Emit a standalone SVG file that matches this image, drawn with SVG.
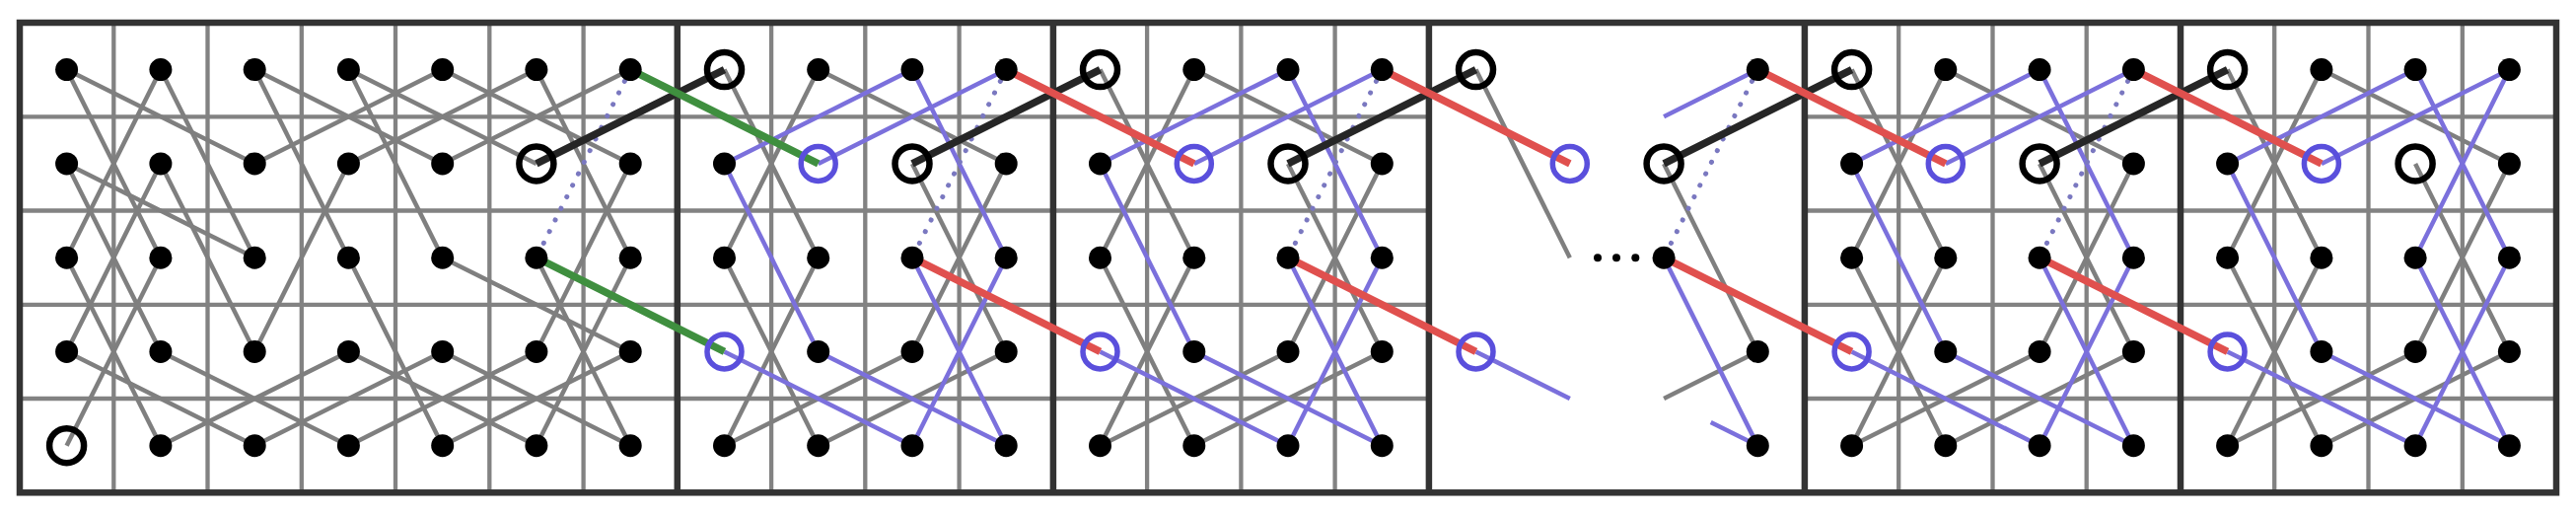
<svg xmlns="http://www.w3.org/2000/svg" width="2612" height="523" viewBox="0 0 2612 523">
<style>
.grid{stroke:#828282;stroke-width:4.3;fill:none}
.frame{stroke:#333;stroke-width:6.5;fill:none}
.g{stroke:#7f7f7f;stroke-width:4.5}
.b{stroke:#7b70dc;stroke-width:4.5}
.dt{stroke:#7a78c0;stroke-width:5;stroke-linecap:round;stroke-dasharray:0.1 13}
.k{stroke:#262626;stroke-width:7.5}
.gr{stroke:#3f8f3f;stroke-width:7.5}
.r{stroke:#e0504e;stroke-width:7.5}
.d{fill:#000}
.kr{fill:none;stroke:#000;stroke-width:6.5}
.br{fill:none;stroke:#5a4fdc;stroke-width:5.5}
.el{fill:#000}
</style>
<rect x="0" y="0" width="2612" height="523" fill="#fff"/>
<g id="grid">
<path class="grid" d="M115.3 23V499.3M210.5 23V499.3M305.8 23V499.3M401 23V499.3M496.3 23V499.3M591.6 23V499.3M782.1 23V499.3M877.3 23V499.3M972.6 23V499.3M1163.1 23V499.3M1258.4 23V499.3M1353.6 23V499.3M1925.2 23V499.3M2020.5 23V499.3M2115.7 23V499.3M2306.2 23V499.3M2401.5 23V499.3M2496.8 23V499.3"/>
<path class="grid" d="M20 118.3H1448.9M20 213.5H1448.9M20 308.8H1448.9M20 404H1448.9M1829.9 118.3H2592M1829.9 213.5H2592M1829.9 308.8H2592M1829.9 404H2592"/>
<rect class="frame" x="20" y="23" width="2572" height="476.3"/>
<path class="frame" d="M686.8 23V499.3M1067.9 23V499.3M1448.9 23V499.3M1829.9 23V499.3M2211 23V499.3"/>
</g>
<g id="connectors">
<g id="gray-edges" class="g">
<line x1="67.6" y1="70.6" x2="258.2" y2="165.9"/>
<line x1="67.6" y1="70.6" x2="162.9" y2="261.2"/>
<line x1="162.9" y1="70.6" x2="67.6" y2="261.2"/>
<line x1="162.9" y1="70.6" x2="258.2" y2="261.2"/>
<line x1="67.6" y1="165.9" x2="258.2" y2="261.2"/>
<line x1="67.6" y1="165.9" x2="162.9" y2="356.4"/>
<line x1="162.9" y1="165.9" x2="67.6" y2="356.4"/>
<line x1="162.9" y1="165.9" x2="258.2" y2="356.4"/>
<line x1="67.6" y1="261.2" x2="162.9" y2="451.7"/>
<line x1="162.9" y1="261.2" x2="67.6" y2="451.7"/>
<line x1="67.6" y1="356.4" x2="258.2" y2="451.7"/>
<line x1="162.9" y1="356.4" x2="353.4" y2="451.7"/>
<line x1="162.9" y1="451.7" x2="353.4" y2="356.4"/>
<line x1="258.2" y1="165.9" x2="448.7" y2="70.6"/>
<line x1="258.2" y1="356.4" x2="353.4" y2="165.9"/>
<line x1="258.2" y1="451.7" x2="448.7" y2="356.4"/>
<line x1="353.4" y1="356.4" x2="543.9" y2="451.7"/>
<line x1="353.4" y1="451.7" x2="543.9" y2="356.4"/>
<line x1="353.4" y1="70.6" x2="543.9" y2="165.9"/>
<line x1="353.4" y1="70.6" x2="448.7" y2="261.2"/>
<line x1="258.2" y1="70.6" x2="448.7" y2="165.9"/>
<line x1="258.2" y1="70.6" x2="353.4" y2="261.2"/>
<line x1="353.4" y1="165.9" x2="543.9" y2="70.6"/>
<line x1="543.9" y1="70.6" x2="639.2" y2="261.2"/>
<line x1="639.2" y1="165.9" x2="543.9" y2="356.4"/>
<line x1="639.2" y1="70.6" x2="448.7" y2="165.9"/>
<line x1="448.7" y1="70.6" x2="639.2" y2="165.9"/>
<line x1="543.9" y1="261.2" x2="639.2" y2="451.7"/>
<line x1="639.2" y1="261.2" x2="543.9" y2="451.7"/>
<line x1="448.7" y1="261.2" x2="639.2" y2="356.4"/>
<line x1="639.2" y1="356.4" x2="448.7" y2="451.7"/>
<line x1="448.7" y1="356.4" x2="639.2" y2="451.7"/>
<line x1="353.4" y1="261.2" x2="448.7" y2="451.7"/>

<line x1="734.5" y1="70.6" x2="829.7" y2="261.2"/>
<line x1="829.7" y1="261.2" x2="734.5" y2="451.7"/>
<line x1="734.5" y1="451.7" x2="925" y2="356.4"/>
<line x1="925" y1="356.4" x2="1020.2" y2="165.9"/>
<line x1="1020.2" y1="165.9" x2="829.7" y2="70.6"/>
<line x1="829.7" y1="70.6" x2="734.5" y2="261.2"/>
<line x1="734.5" y1="261.2" x2="829.7" y2="451.7"/>
<line x1="829.7" y1="451.7" x2="1020.2" y2="356.4"/>
<line x1="1020.2" y1="356.4" x2="925" y2="165.9"/>

<line x1="1115.5" y1="70.6" x2="1210.8" y2="261.2"/>
<line x1="1210.8" y1="261.2" x2="1115.5" y2="451.7"/>
<line x1="1115.5" y1="451.7" x2="1306" y2="356.4"/>
<line x1="1306" y1="356.4" x2="1401.3" y2="165.9"/>
<line x1="1401.3" y1="165.9" x2="1210.8" y2="70.6"/>
<line x1="1210.8" y1="70.6" x2="1115.5" y2="261.2"/>
<line x1="1115.5" y1="261.2" x2="1210.8" y2="451.7"/>
<line x1="1210.8" y1="451.7" x2="1401.3" y2="356.4"/>
<line x1="1401.3" y1="356.4" x2="1306" y2="165.9"/>

<line x1="1496.5" y1="70.6" x2="1591.8" y2="261.2"/>
<line x1="1687.1" y1="165.9" x2="1782.3" y2="356.4"/>
<line x1="1782.3" y1="356.4" x2="1687.1" y2="404"/>

<line x1="1877.6" y1="70.6" x2="1972.8" y2="261.2"/>
<line x1="1972.8" y1="261.2" x2="1877.6" y2="451.7"/>
<line x1="1877.6" y1="451.7" x2="2068.1" y2="356.4"/>
<line x1="2068.1" y1="356.4" x2="2163.4" y2="165.9"/>
<line x1="2163.4" y1="165.9" x2="1972.8" y2="70.6"/>
<line x1="1972.8" y1="70.6" x2="1877.6" y2="261.2"/>
<line x1="1877.6" y1="261.2" x2="1972.8" y2="451.7"/>
<line x1="1972.8" y1="451.7" x2="2163.4" y2="356.4"/>
<line x1="2163.4" y1="356.4" x2="2068.1" y2="165.9"/>

<line x1="2258.6" y1="70.6" x2="2353.9" y2="261.2"/>
<line x1="2353.9" y1="261.2" x2="2258.6" y2="451.7"/>
<line x1="2258.6" y1="451.7" x2="2449.1" y2="356.4"/>
<line x1="2449.1" y1="356.4" x2="2544.4" y2="165.9"/>
<line x1="2544.4" y1="165.9" x2="2353.9" y2="70.6"/>
<line x1="2353.9" y1="70.6" x2="2258.6" y2="261.2"/>
<line x1="2258.6" y1="261.2" x2="2353.9" y2="451.7"/>
<line x1="2353.9" y1="451.7" x2="2544.4" y2="356.4"/>
<line x1="2544.4" y1="356.4" x2="2449.1" y2="165.9"/>
</g>
<g id="blue-edges" class="b">
<line x1="829.7" y1="165.9" x2="1020.2" y2="70.6"/>
<line x1="925" y1="261.2" x2="1020.2" y2="451.7"/>
<line x1="1020.2" y1="451.7" x2="829.7" y2="356.4"/>
<line x1="829.7" y1="356.4" x2="734.5" y2="165.9"/>
<line x1="734.5" y1="165.9" x2="925" y2="70.6"/>
<line x1="925" y1="70.6" x2="1020.2" y2="261.2"/>
<line x1="1020.2" y1="261.2" x2="925" y2="451.7"/>
<line x1="925" y1="451.7" x2="734.5" y2="356.4"/>

<line x1="1210.8" y1="165.9" x2="1401.3" y2="70.6"/>
<line x1="1306" y1="261.2" x2="1401.3" y2="451.7"/>
<line x1="1401.3" y1="451.7" x2="1210.8" y2="356.4"/>
<line x1="1210.8" y1="356.4" x2="1115.5" y2="165.9"/>
<line x1="1115.5" y1="165.9" x2="1306" y2="70.6"/>
<line x1="1306" y1="70.6" x2="1401.3" y2="261.2"/>
<line x1="1401.3" y1="261.2" x2="1306" y2="451.7"/>
<line x1="1306" y1="451.7" x2="1115.5" y2="356.4"/>

<line x1="1496.5" y1="356.4" x2="1591.8" y2="404"/>
<line x1="1782.3" y1="70.6" x2="1687.1" y2="118.3"/>
<line x1="1687.1" y1="261.2" x2="1782.3" y2="451.7"/>
<line x1="1734.7" y1="427.9" x2="1782.3" y2="451.7"/>

<line x1="1972.8" y1="165.9" x2="2163.4" y2="70.6"/>
<line x1="2068.1" y1="261.2" x2="2163.4" y2="451.7"/>
<line x1="2163.4" y1="451.7" x2="1972.8" y2="356.4"/>
<line x1="1972.8" y1="356.4" x2="1877.6" y2="165.9"/>
<line x1="1877.6" y1="165.9" x2="2068.1" y2="70.6"/>
<line x1="2068.1" y1="70.6" x2="2163.4" y2="261.2"/>
<line x1="2163.4" y1="261.2" x2="2068.1" y2="451.7"/>
<line x1="2068.1" y1="451.7" x2="1877.6" y2="356.4"/>

<line x1="2353.9" y1="165.9" x2="2544.4" y2="70.6"/>
<line x1="2544.4" y1="70.6" x2="2449.1" y2="261.2"/>
<line x1="2449.1" y1="261.2" x2="2544.4" y2="451.7"/>
<line x1="2544.4" y1="451.7" x2="2353.9" y2="356.4"/>
<line x1="2353.9" y1="356.4" x2="2258.6" y2="165.9"/>
<line x1="2258.6" y1="165.9" x2="2449.1" y2="70.6"/>
<line x1="2449.1" y1="70.6" x2="2544.4" y2="261.2"/>
<line x1="2544.4" y1="261.2" x2="2449.1" y2="451.7"/>
<line x1="2449.1" y1="451.7" x2="2258.6" y2="356.4"/>
</g>
<g id="removed-edges" class="dt">
<line x1="639.2" y1="70.6" x2="543.9" y2="261.2"/>
<line x1="1020.2" y1="70.6" x2="925" y2="261.2"/>
<line x1="1401.3" y1="70.6" x2="1306" y2="261.2"/>
<line x1="1782.3" y1="70.6" x2="1687.1" y2="261.2"/>
<line x1="2163.4" y1="70.6" x2="2068.1" y2="261.2"/>
</g>
<g id="join-edges">
<line class="k" x1="543.9" y1="165.9" x2="734.5" y2="70.6"/>
<line class="k" x1="925" y1="165.9" x2="1115.5" y2="70.6"/>
<line class="k" x1="1306" y1="165.9" x2="1496.5" y2="70.6"/>
<line class="k" x1="1687.1" y1="165.9" x2="1877.6" y2="70.6"/>
<line class="k" x1="2068.1" y1="165.9" x2="2258.6" y2="70.6"/>
<line class="gr" x1="639.2" y1="70.6" x2="829.7" y2="165.9"/>
<line class="gr" x1="543.9" y1="261.2" x2="734.5" y2="356.4"/>
<line class="r" x1="1020.2" y1="70.6" x2="1210.8" y2="165.9"/>
<line class="r" x1="925" y1="261.2" x2="1115.5" y2="356.4"/>
<line class="r" x1="1401.3" y1="70.6" x2="1591.8" y2="165.9"/>
<line class="r" x1="1306" y1="261.2" x2="1496.5" y2="356.4"/>
<line class="r" x1="1782.3" y1="70.6" x2="1972.8" y2="165.9"/>
<line class="r" x1="1687.1" y1="261.2" x2="1877.6" y2="356.4"/>
<line class="r" x1="2163.4" y1="70.6" x2="2353.9" y2="165.9"/>
<line class="r" x1="2068.1" y1="261.2" x2="2258.6" y2="356.4"/>
</g>
</g>
<g id="ellipsis" class="el">
<circle cx="1620" cy="261.2" r="4"/><circle cx="1639" cy="261.2" r="4"/><circle cx="1658.3" cy="261.2" r="4"/>
</g>
<g id="nodes">
<g id="n0-0"><circle class="d" cx="67.6" cy="70.6" r="11.5"/></g>
<g id="n1-0"><circle class="d" cx="162.9" cy="70.6" r="11.5"/></g>
<g id="n2-0"><circle class="d" cx="258.2" cy="70.6" r="11.5"/></g>
<g id="n3-0"><circle class="d" cx="353.4" cy="70.6" r="11.5"/></g>
<g id="n4-0"><circle class="d" cx="448.7" cy="70.6" r="11.5"/></g>
<g id="n5-0"><circle class="d" cx="543.9" cy="70.6" r="11.5"/></g>
<g id="n6-0"><circle class="d" cx="639.2" cy="70.6" r="11.5"/></g>
<g id="n0-1"><circle class="d" cx="67.6" cy="165.9" r="11.5"/></g>
<g id="n1-1"><circle class="d" cx="162.9" cy="165.9" r="11.5"/></g>
<g id="n2-1"><circle class="d" cx="258.2" cy="165.9" r="11.5"/></g>
<g id="n3-1"><circle class="d" cx="353.4" cy="165.9" r="11.5"/></g>
<g id="n4-1"><circle class="d" cx="448.7" cy="165.9" r="11.5"/></g>
<g id="n5-1"><circle class="kr" cx="543.9" cy="165.9" r="17.5"/></g>
<g id="n6-1"><circle class="d" cx="639.2" cy="165.9" r="11.5"/></g>
<g id="n0-2"><circle class="d" cx="67.6" cy="261.2" r="11.5"/></g>
<g id="n1-2"><circle class="d" cx="162.9" cy="261.2" r="11.5"/></g>
<g id="n2-2"><circle class="d" cx="258.2" cy="261.2" r="11.5"/></g>
<g id="n3-2"><circle class="d" cx="353.4" cy="261.2" r="11.5"/></g>
<g id="n4-2"><circle class="d" cx="448.7" cy="261.2" r="11.5"/></g>
<g id="n5-2"><circle class="d" cx="543.9" cy="261.2" r="11.5"/></g>
<g id="n6-2"><circle class="d" cx="639.2" cy="261.2" r="11.5"/></g>
<g id="n0-3"><circle class="d" cx="67.6" cy="356.4" r="11.5"/></g>
<g id="n1-3"><circle class="d" cx="162.9" cy="356.4" r="11.5"/></g>
<g id="n2-3"><circle class="d" cx="258.2" cy="356.4" r="11.5"/></g>
<g id="n3-3"><circle class="d" cx="353.4" cy="356.4" r="11.5"/></g>
<g id="n4-3"><circle class="d" cx="448.7" cy="356.4" r="11.5"/></g>
<g id="n5-3"><circle class="d" cx="543.9" cy="356.4" r="11.5"/></g>
<g id="n6-3"><circle class="d" cx="639.2" cy="356.4" r="11.5"/></g>
<g id="n0-4"><circle class="kr" cx="67.6" cy="451.7" r="17.5"/></g>
<g id="n1-4"><circle class="d" cx="162.9" cy="451.7" r="11.5"/></g>
<g id="n2-4"><circle class="d" cx="258.2" cy="451.7" r="11.5"/></g>
<g id="n3-4"><circle class="d" cx="353.4" cy="451.7" r="11.5"/></g>
<g id="n4-4"><circle class="d" cx="448.7" cy="451.7" r="11.5"/></g>
<g id="n5-4"><circle class="d" cx="543.9" cy="451.7" r="11.5"/></g>
<g id="n6-4"><circle class="d" cx="639.2" cy="451.7" r="11.5"/></g>

<g id="n7-0"><circle class="kr" cx="734.5" cy="70.6" r="17.5"/></g>
<g id="n8-0"><circle class="d" cx="829.7" cy="70.6" r="11.5"/></g>
<g id="n9-0"><circle class="d" cx="925" cy="70.6" r="11.5"/></g>
<g id="n10-0"><circle class="d" cx="1020.2" cy="70.6" r="11.5"/></g>
<g id="n7-1"><circle class="d" cx="734.5" cy="165.9" r="11.5"/></g>
<g id="n8-1"><circle class="br" cx="829.7" cy="165.9" r="17.5"/></g>
<g id="n9-1"><circle class="kr" cx="925" cy="165.9" r="17.5"/></g>
<g id="n10-1"><circle class="d" cx="1020.2" cy="165.9" r="11.5"/></g>
<g id="n7-2"><circle class="d" cx="734.5" cy="261.2" r="11.5"/></g>
<g id="n8-2"><circle class="d" cx="829.7" cy="261.2" r="11.5"/></g>
<g id="n9-2"><circle class="d" cx="925" cy="261.2" r="11.5"/></g>
<g id="n10-2"><circle class="d" cx="1020.2" cy="261.2" r="11.5"/></g>
<g id="n7-3"><circle class="br" cx="734.5" cy="356.4" r="17.5"/></g>
<g id="n8-3"><circle class="d" cx="829.7" cy="356.4" r="11.5"/></g>
<g id="n9-3"><circle class="d" cx="925" cy="356.4" r="11.5"/></g>
<g id="n10-3"><circle class="d" cx="1020.2" cy="356.4" r="11.5"/></g>
<g id="n7-4"><circle class="d" cx="734.5" cy="451.7" r="11.5"/></g>
<g id="n8-4"><circle class="d" cx="829.7" cy="451.7" r="11.5"/></g>
<g id="n9-4"><circle class="d" cx="925" cy="451.7" r="11.5"/></g>
<g id="n10-4"><circle class="d" cx="1020.2" cy="451.7" r="11.5"/></g>

<g id="n11-0"><circle class="kr" cx="1115.5" cy="70.6" r="17.5"/></g>
<g id="n12-0"><circle class="d" cx="1210.8" cy="70.6" r="11.5"/></g>
<g id="n13-0"><circle class="d" cx="1306" cy="70.6" r="11.5"/></g>
<g id="n14-0"><circle class="d" cx="1401.3" cy="70.6" r="11.5"/></g>
<g id="n11-1"><circle class="d" cx="1115.5" cy="165.9" r="11.5"/></g>
<g id="n12-1"><circle class="br" cx="1210.8" cy="165.9" r="17.5"/></g>
<g id="n13-1"><circle class="kr" cx="1306" cy="165.9" r="17.5"/></g>
<g id="n14-1"><circle class="d" cx="1401.3" cy="165.9" r="11.5"/></g>
<g id="n11-2"><circle class="d" cx="1115.5" cy="261.2" r="11.5"/></g>
<g id="n12-2"><circle class="d" cx="1210.8" cy="261.2" r="11.5"/></g>
<g id="n13-2"><circle class="d" cx="1306" cy="261.2" r="11.5"/></g>
<g id="n14-2"><circle class="d" cx="1401.3" cy="261.2" r="11.5"/></g>
<g id="n11-3"><circle class="br" cx="1115.5" cy="356.4" r="17.5"/></g>
<g id="n12-3"><circle class="d" cx="1210.8" cy="356.4" r="11.5"/></g>
<g id="n13-3"><circle class="d" cx="1306" cy="356.4" r="11.5"/></g>
<g id="n14-3"><circle class="d" cx="1401.3" cy="356.4" r="11.5"/></g>
<g id="n11-4"><circle class="d" cx="1115.5" cy="451.7" r="11.5"/></g>
<g id="n12-4"><circle class="d" cx="1210.8" cy="451.7" r="11.5"/></g>
<g id="n13-4"><circle class="d" cx="1306" cy="451.7" r="11.5"/></g>
<g id="n14-4"><circle class="d" cx="1401.3" cy="451.7" r="11.5"/></g>

<g id="n15-0"><circle class="kr" cx="1496.5" cy="70.6" r="17.5"/></g>
<g id="n16-1"><circle class="br" cx="1591.8" cy="165.9" r="17.5"/></g>
<g id="n15-3"><circle class="br" cx="1496.5" cy="356.4" r="17.5"/></g>
<g id="n18-0"><circle class="d" cx="1782.3" cy="70.6" r="11.5"/></g>
<g id="n17-1"><circle class="kr" cx="1687.1" cy="165.9" r="17.5"/></g>
<g id="n17-2"><circle class="d" cx="1687.1" cy="261.2" r="11.5"/></g>
<g id="n18-3"><circle class="d" cx="1782.3" cy="356.4" r="11.5"/></g>
<g id="n18-4"><circle class="d" cx="1782.3" cy="451.7" r="11.5"/></g>

<g id="n19-0"><circle class="kr" cx="1877.6" cy="70.6" r="17.5"/></g>
<g id="n20-0"><circle class="d" cx="1972.8" cy="70.6" r="11.5"/></g>
<g id="n21-0"><circle class="d" cx="2068.1" cy="70.6" r="11.5"/></g>
<g id="n22-0"><circle class="d" cx="2163.4" cy="70.6" r="11.5"/></g>
<g id="n19-1"><circle class="d" cx="1877.6" cy="165.9" r="11.5"/></g>
<g id="n20-1"><circle class="br" cx="1972.8" cy="165.9" r="17.5"/></g>
<g id="n21-1"><circle class="kr" cx="2068.1" cy="165.9" r="17.5"/></g>
<g id="n22-1"><circle class="d" cx="2163.4" cy="165.9" r="11.5"/></g>
<g id="n19-2"><circle class="d" cx="1877.6" cy="261.2" r="11.5"/></g>
<g id="n20-2"><circle class="d" cx="1972.8" cy="261.2" r="11.5"/></g>
<g id="n21-2"><circle class="d" cx="2068.1" cy="261.2" r="11.5"/></g>
<g id="n22-2"><circle class="d" cx="2163.4" cy="261.2" r="11.5"/></g>
<g id="n19-3"><circle class="br" cx="1877.6" cy="356.4" r="17.5"/></g>
<g id="n20-3"><circle class="d" cx="1972.8" cy="356.4" r="11.5"/></g>
<g id="n21-3"><circle class="d" cx="2068.1" cy="356.4" r="11.5"/></g>
<g id="n22-3"><circle class="d" cx="2163.4" cy="356.4" r="11.5"/></g>
<g id="n19-4"><circle class="d" cx="1877.6" cy="451.7" r="11.5"/></g>
<g id="n20-4"><circle class="d" cx="1972.8" cy="451.7" r="11.5"/></g>
<g id="n21-4"><circle class="d" cx="2068.1" cy="451.7" r="11.5"/></g>
<g id="n22-4"><circle class="d" cx="2163.4" cy="451.7" r="11.5"/></g>

<g id="n23-0"><circle class="kr" cx="2258.6" cy="70.6" r="17.5"/></g>
<g id="n24-0"><circle class="d" cx="2353.9" cy="70.6" r="11.5"/></g>
<g id="n25-0"><circle class="d" cx="2449.1" cy="70.6" r="11.5"/></g>
<g id="n26-0"><circle class="d" cx="2544.4" cy="70.6" r="11.5"/></g>
<g id="n23-1"><circle class="d" cx="2258.6" cy="165.9" r="11.5"/></g>
<g id="n24-1"><circle class="br" cx="2353.9" cy="165.9" r="17.5"/></g>
<g id="n25-1"><circle class="kr" cx="2449.1" cy="165.9" r="17.5"/></g>
<g id="n26-1"><circle class="d" cx="2544.4" cy="165.9" r="11.5"/></g>
<g id="n23-2"><circle class="d" cx="2258.6" cy="261.2" r="11.5"/></g>
<g id="n24-2"><circle class="d" cx="2353.9" cy="261.2" r="11.5"/></g>
<g id="n25-2"><circle class="d" cx="2449.1" cy="261.2" r="11.5"/></g>
<g id="n26-2"><circle class="d" cx="2544.4" cy="261.2" r="11.5"/></g>
<g id="n23-3"><circle class="br" cx="2258.6" cy="356.4" r="17.5"/></g>
<g id="n24-3"><circle class="d" cx="2353.9" cy="356.4" r="11.5"/></g>
<g id="n25-3"><circle class="d" cx="2449.1" cy="356.4" r="11.5"/></g>
<g id="n26-3"><circle class="d" cx="2544.4" cy="356.4" r="11.5"/></g>
<g id="n23-4"><circle class="d" cx="2258.6" cy="451.7" r="11.5"/></g>
<g id="n24-4"><circle class="d" cx="2353.9" cy="451.7" r="11.5"/></g>
<g id="n25-4"><circle class="d" cx="2449.1" cy="451.7" r="11.5"/></g>
<g id="n26-4"><circle class="d" cx="2544.4" cy="451.7" r="11.5"/></g>
</g>
</svg>
